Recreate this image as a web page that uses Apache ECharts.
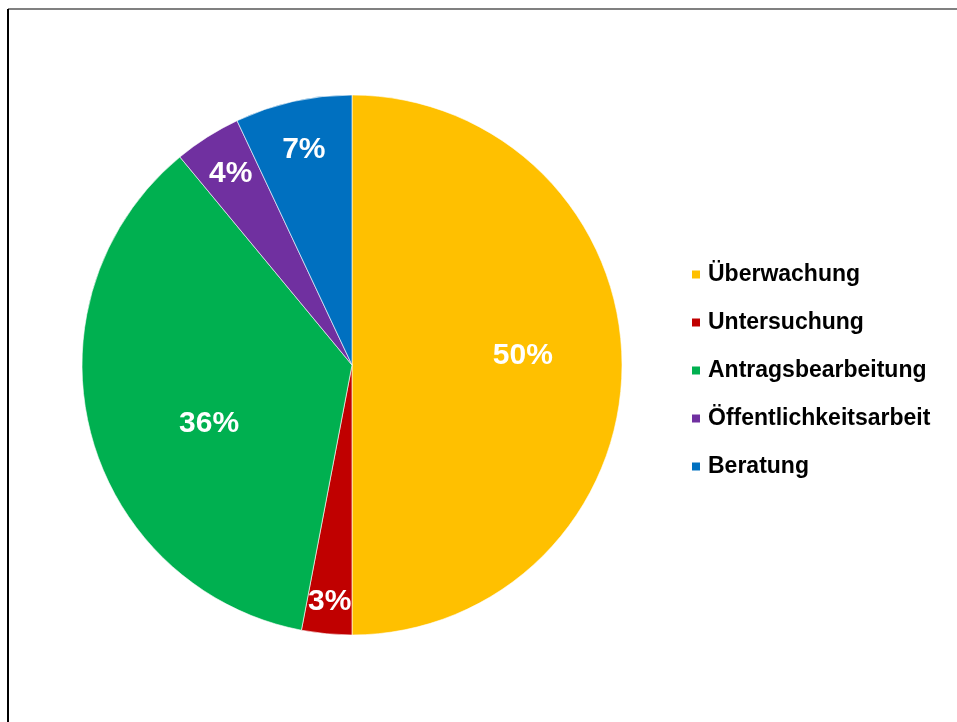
<!DOCTYPE html>
<html>
<head>
<meta charset="utf-8">
<script src="https://cdn.jsdelivr.net/npm/echarts@6/dist/echarts.min.js"></script>
<style>
	html, body {margin: 0; padding: 0; background: #fff;}
	#chart-pie {width: 957px; height: 722px;}
</style>
</head>
<body>
<div id="chart-pie"></div>
<script>
// 数据
var categories = ['Überwachung', 'Untersuchung', 'Antragsbearbeitung', 'Öffentlichkeitsarbeit', 'Beratung'];
var values = [50, 3, 36, 4, 7];
var colors = ['#FFC000', '#C00000', '#00B050', '#7030A0', '#0070C0'];

// 标签离圆心的距离(相对半径)和角度偏移(度, 正值=顺时针)
var labelDist = [0.62, 0.86, 0.56, 0.82, 0.80];
var labelTurn = [-3, 0, -8, 0, 0];

var cx = 352, cy = 365, r = 270;

var pieData = [];
for (var i = 0; i < categories.length; i++) {
	pieData.push({
		name: categories[i],
		value: values[i],
		itemStyle: {color: colors[i]}
	});
}

var pieChart = echarts.init(document.getElementById('chart-pie'));
var pieOption = {
	animation: false,
	legend: {
		orient: 'vertical',
		left: 685,
		top: 258,
		itemWidth: 10,
		itemHeight: 10,
		itemGap: 25,
		icon: 'rect',
		data: categories,
		textStyle: {
			fontFamily: 'Liberation Sans, Arial, sans-serif',
			fontWeight: 'bold',
			fontSize: 23,
			color: '#000',
			padding: [0, 0, 0, 2]
		}
	},
	graphic: [
		{// 上边框
			type: 'line',
			shape: {x1: 8, y1: 9, x2: 957, y2: 9},
			style: {stroke: '#808080', lineWidth: 2}
		},
		{// 左边框
			type: 'line',
			shape: {x1: 8, y1: 9, x2: 8, y2: 722},
			style: {stroke: '#000', lineWidth: 2}
		}
	],
	series: [
		{
			type: 'pie',
			radius: [0, r],
			center: [cx, cy],
			startAngle: 90,
			clockwise: true,
			data: pieData,
			itemStyle: {
				borderColor: '#fff',
				borderWidth: 0.6
			},
			label: {
				show: true,
				position: 'inside',
				formatter: '{c}%',
				color: '#fff',
				fontFamily: 'Liberation Sans, Arial, sans-serif',
				fontWeight: 'bold',
				fontSize: 30
			},
			labelLine: {show: false},
			labelLayout: function (params) {
				// 默认在半径一半处, 沿半径方向挪到指定位置, 再转一点角度
				var rect = params.labelRect;
				var dx = rect.x + rect.width / 2 - cx;
				var dy = rect.y + rect.height / 2 - cy;
				var k = labelDist[params.dataIndex] / 0.5;
				var a = labelTurn[params.dataIndex] * Math.PI / 180;
				// 屏幕坐标y向下, 顺时针转a
				var rx = dx * Math.cos(a) - dy * Math.sin(a);
				var ry = dx * Math.sin(a) + dy * Math.cos(a);
				return {
					x: cx + rx * k,
					y: cy + ry * k
				};
			}
		}
	]
};
pieChart.setOption(pieOption);
</script>
</body>
</html>
